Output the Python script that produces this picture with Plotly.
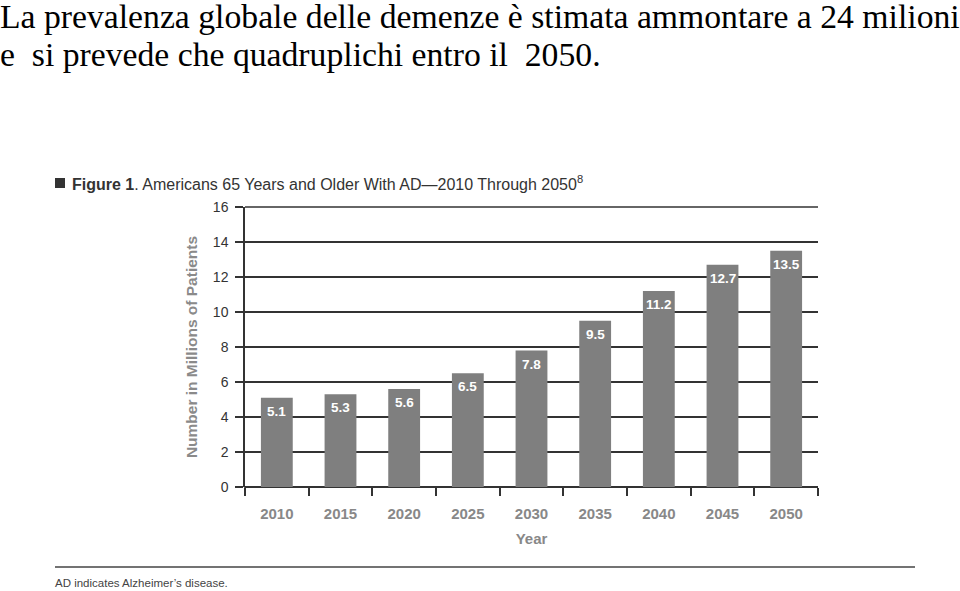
import plotly.graph_objects as go

years = ["2010", "2015", "2020", "2025", "2030", "2035", "2040", "2045", "2050"]
patients = [5.1, 5.3, 5.6, 6.5, 7.8, 9.5, 11.2, 12.7, 13.5]
labels = ["5.1", "5.3", "5.6", "6.5", "7.8", "9.5", "11.2", "12.7", "13.5"]
y_ticks = [0, 2, 4, 6, 8, 10, 12, 14, 16]

W, H = 960, 591
L, R, T, B = 245, 818, 207, 487

def px(x):
    return (x - L) / (R - L)

def py(y):
    return (B - y) / (B - T)

fig = go.Figure(go.Bar(
    x=years, y=patients,
    marker=dict(color="#7f7f7f", line=dict(width=0)),
    hoverinfo="skip",
))

fig.update_layout(
    width=W, height=H,
    margin=dict(l=L, r=W - R, t=T, b=H - B),
    paper_bgcolor="white", plot_bgcolor="white",
    bargap=0.5,
    showlegend=False,
    font=dict(family="Liberation Sans, Arial", color="#222"),
)

fig.update_xaxes(
    type="category",
    showgrid=False, showline=False, zeroline=False,
    ticks="outside", tickson="boundaries", ticklen=8, tickwidth=1.5, tickcolor="#333",
    ticklabelstandoff=16,
    tickfont=dict(family="Liberation Sans, Arial", size=15, color="#888", weight="bold"),
    title=dict(text="Year", font=dict(family="Liberation Sans, Arial", size=15, color="#888", weight="bold"), standoff=12),
)

fig.update_yaxes(
    range=[0, 16], tickvals=y_ticks,
    showgrid=True, gridcolor="#333", gridwidth=1.5,
    zeroline=True, zerolinecolor="#333", zerolinewidth=1.5,
    showline=True, linecolor="#333", linewidth=1.5,
    ticks="outside", ticklen=8, tickwidth=1.5, tickcolor="#333",
    ticklabelstandoff=4,
    tickfont=dict(family="Liberation Sans, Arial", size=14, color="#333"),
    title=dict(text="Number in Millions of Patients", font=dict(family="Liberation Sans, Arial", size=15.5, color="#8a8a8a", weight="bold"), standoff=11),
)

shapes = [
    dict(type="rect", xref="paper", yref="paper", x0=px(55), x1=px(65), y0=py(188), y1=py(178),
         fillcolor="#333", line=dict(width=0)),
    dict(type="line", xref="paper", yref="paper", x0=px(55), x1=px(915), y0=py(567), y1=py(567),
         line=dict(color="#444", width=1.5)),
    dict(type="line", xref="paper", yref="paper", x0=0, x1=0, y0=py(495), y1=0,
         line=dict(color="#333", width=1.5)),
    # top gridline at the upper end of the range (paper-referenced so it is not clipped)
    dict(type="line", xref="paper", yref="paper", x0=0, x1=1, y0=1, y1=1,
         line=dict(color="#333", width=1.5)),
]
fig.update_layout(shapes=shapes)

annotations = [
    dict(text="La prevalenza globale delle demenze è stimata ammontare a 24 milioni",
         x=px(-2), y=py(-4), xref="paper", yref="paper", xanchor="left", yanchor="top", showarrow=False,
         font=dict(family="Liberation Serif, Times New Roman", size=33.7, color="black")),
    dict(text="e\u00a0 si prevede che quadruplichi entro il\u00a0 2050.",
         x=px(-2), y=py(34), xref="paper", yref="paper", xanchor="left", yanchor="top", showarrow=False,
         font=dict(family="Liberation Serif, Times New Roman", size=33.7, color="black")),
    dict(text="<b>Figure 1</b>. Americans 65 Years and Older With AD\u20142010 Through 2050<sup>8</sup>",
         x=px(70), y=py(183), xref="paper", yref="paper", xanchor="left", yanchor="middle", showarrow=False,
         font=dict(family="Liberation Sans, Arial", size=16, color="#333")),
    dict(text="AD indicates Alzheimer\u2019s disease.",
         x=px(53), y=py(583), xref="paper", yref="paper", xanchor="left", yanchor="middle", showarrow=False,
         font=dict(family="Liberation Sans, Arial", size=11.5, color="#444")),
]
for i, (v, lab) in enumerate(zip(patients, labels)):
    annotations.append(dict(
        text=lab, x=i, y=v, xref="x", yref="y", xanchor="center", yanchor="top",
        yshift=-4, showarrow=False,
        font=dict(family="Liberation Sans, Arial", size=13.5, color="white", weight="bold"),
    ))
fig.update_layout(annotations=annotations)

fig.write_html("out.html", config={"displayModeBar": False},
               post_script="document.body.style.margin='0px';")
